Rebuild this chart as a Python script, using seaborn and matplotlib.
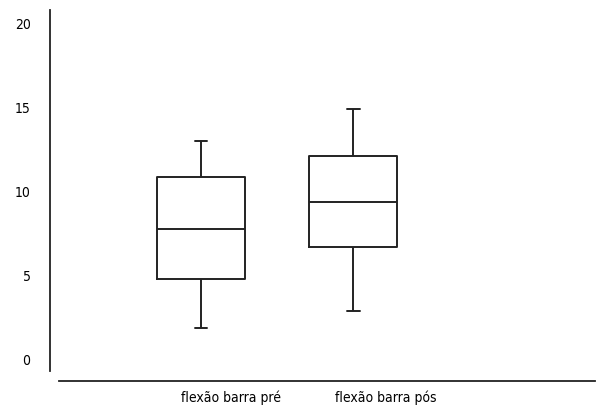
import pandas as pd
import matplotlib.pyplot as plt
import seaborn as sns

groups = ["flexão barra pré", "flexão barra pós"]
# min, q1, median, q3, max
pre = [1.9, 4.8, 7.8, 10.9, 13.0]
pos = [2.9, 6.7, 9.4, 12.1, 14.9]
yticks = [0, 5, 10, 15, 20]

df = pd.DataFrame({
    "grupo": [groups[0]] * len(pre) + [groups[1]] * len(pos),
    "valor": pre + pos,
})

sns.set_style("white")
plt.rcParams["font.family"] = ["DejaVu Sans"]
plt.rcParams["font.stretch"] = "condensed"
plt.rcParams["text.color"] = "black"
plt.rcParams["xtick.color"] = "black"
plt.rcParams["ytick.color"] = "black"

fig = plt.figure(figsize=(6, 4.12), dpi=100)
ax = fig.add_axes([59 / 600, 1 - 381 / 412, 536 / 600, 371 / 412])

sns.boxplot(data=df, x="grupo", y="valor", order=groups, whis=(0, 100),
            fill=False, width=0.577, color="#222222", linewidth=1.4,
            ax=ax)

# short caps like the original
for line in ax.lines:
    xs = line.get_xdata()
    ys = line.get_ydata()
    if len(xs) == 2 and ys[0] == ys[1] and ys[0] in (pre[0], pre[-1], pos[0], pos[-1]):
        c = (xs[0] + xs[1]) / 2
        if abs(xs[1] - xs[0]) < 0.5:
            line.set_xdata([c - 0.04, c + 0.04])

ax.set_xlim(-0.931, 2.584)
ax.set_ylim(-1.25, 20.8)
ax.set_yticks(yticks)
ax.set_yticklabels([str(t) for t in yticks], fontsize=12)
ax.set_xticks([0.2, 1.21])
ax.set_xticklabels(groups, fontsize=10)
ax.tick_params(axis="y", length=0, pad=14)
ax.tick_params(axis="x", length=0, pad=7)
ax.set_xlabel("")
ax.set_ylabel("")

for s in ["top", "right"]:
    ax.spines[s].set_visible(False)
ax.spines["left"].set_position(("outward", 6.5))
ax.spines["left"].set_bounds(-0.65, 20.8)
ax.spines["left"].set_color("#222222")
ax.spines["bottom"].set_color("#222222")
ax.spines["left"].set_linewidth(1.3)
ax.spines["bottom"].set_linewidth(1.3)

plt.savefig("out.png", dpi=100)
